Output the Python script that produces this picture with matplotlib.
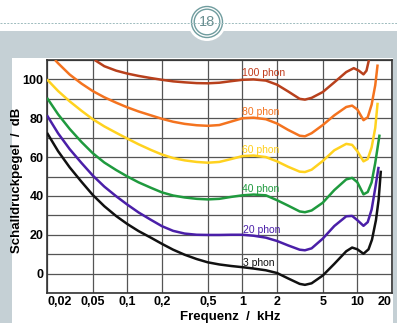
import numpy as np
import matplotlib
matplotlib.use("Agg")
from matplotlib import pyplot as plt
from matplotlib.patches import Rectangle, Circle

plt.rcParams['font.family'] = ['Liberation Sans', 'DejaVu Sans']

# values (frequency in kHz, level in dB)
f_3 = [0.02, 0.025, 0.0315, 0.04, 0.05, 0.063, 0.08, 0.1, 0.125, 0.16, 0.2, 0.25, 0.315, 0.4, 0.5,
       0.63, 0.8, 1.0, 1.25, 1.6, 2.0, 2.5, 3.15, 3.5, 4.0, 5.0, 6.3, 8.0, 9.0, 10.0, 11.3, 12.5,
       13.4, 14.5, 15.3, 16.0]
db_3 = [72.5, 63.0, 54.7, 47.2, 40.5, 34.7, 29.6, 25.5, 21.9, 18.5, 15.3, 12.3, 9.7, 7.5, 5.8,
        4.7, 3.9, 3.3, 2.6, 1.7, 0.3, -2.5, -5.3, -5.8, -5.0, -1.0, 5.0, 11.5, 13.4, 12.5, 10.2, 12.5,
        17.5, 27.5, 38.0, 53.0]

f_20 = [0.02, 0.025, 0.0315, 0.04, 0.05, 0.063, 0.08, 0.1, 0.125, 0.16, 0.2, 0.25, 0.315, 0.4, 0.5,
        0.63, 0.8, 1.0, 1.25, 1.6, 2.0, 2.5, 3.15, 3.5, 4.0, 5.0, 6.3, 8.0, 9.0, 10.0, 11.3, 12.3,
        13.3, 14.3, 15.3]
db_20 = [81.5, 72.2, 64.1, 56.9, 50.5, 44.8, 39.8, 35.5, 31.5, 27.7, 24.4, 22.0, 20.6, 20.0, 19.9,
         19.9, 20.0, 20.0, 19.5, 18.5, 16.8, 14.5, 12.3, 12.0, 13.0, 18.0, 24.5, 29.5, 29.7, 27.5, 24.6, 26.5,
         33.0, 44.0, 55.0]

f_40 = [0.02, 0.025, 0.0315, 0.04, 0.05, 0.063, 0.08, 0.1, 0.125, 0.16, 0.2, 0.25, 0.315, 0.4, 0.5,
        0.63, 0.8, 1.0, 1.25, 1.6, 2.0, 2.5, 3.15, 3.5, 4.0, 5.0, 6.3, 8.0, 9.0, 10.0, 11.3, 12.3,
        13.3, 14.3, 15.6]
db_40 = [90.5, 82.0, 74.5, 67.7, 62.0, 57.2, 53.3, 50.0, 47.0, 44.2, 41.8, 40.2, 39.2, 38.5, 38.2,
         38.5, 39.5, 40.3, 40.7, 40.3, 37.8, 35.0, 32.0, 31.6, 32.5, 36.5, 43.0, 48.5, 49.3, 47.0, 40.8, 42.0,
         47.0, 57.0, 71.6]

f_60 = [0.02, 0.025, 0.0315, 0.04, 0.05, 0.063, 0.08, 0.1, 0.125, 0.16, 0.2, 0.25, 0.315, 0.4, 0.5,
        0.63, 0.8, 1.0, 1.25, 1.6, 2.0, 2.5, 3.15, 3.5, 4.0, 5.0, 6.3, 8.0, 9.0, 10.0, 11.3, 12.3,
        13.3, 14.3, 15.0]
db_60 = [100.0, 94.0, 88.7, 83.8, 79.5, 75.8, 72.5, 69.5, 66.6, 63.7, 61.3, 59.5, 58.3, 57.5, 57.1,
         57.5, 59.0, 60.5, 60.8, 60.0, 57.8, 55.0, 52.5, 52.3, 53.5, 58.0, 63.5, 66.8, 66.3, 63.0, 57.8, 59.0,
         65.0, 75.0, 88.0]

f_80 = [0.0235, 0.025, 0.0315, 0.04, 0.05, 0.063, 0.08, 0.1, 0.125, 0.16, 0.2, 0.25, 0.315, 0.4, 0.5,
        0.63, 0.8, 1.0, 1.25, 1.6, 2.0, 2.5, 3.15, 3.5, 4.0, 5.0, 6.3, 8.0, 9.0, 10.0, 11.3, 12.3,
        13.3, 14.3, 15.0]
db_80 = [110.0, 108.3, 102.5, 97.8, 94.0, 90.8, 88.0, 85.6, 83.5, 81.5, 79.7, 78.2, 77.1, 76.4, 76.1,
         76.5, 78.3, 80.0, 80.3, 79.5, 77.3, 74.0, 71.0, 70.7, 72.3, 76.5, 81.5, 85.8, 86.5, 84.5, 79.0, 80.5,
         87.0, 97.0, 107.7]

f_100 = [0.052, 0.063, 0.08, 0.1, 0.125, 0.16, 0.2, 0.25, 0.315, 0.4, 0.5, 0.63, 0.8, 1.0, 1.25,
         1.6, 2.0, 2.5, 3.15, 3.5, 4.0, 5.0, 6.3, 8.0, 9.3, 10.3, 11.3, 12.0, 12.6]
db_100 = [110.0, 106.8, 104.5, 103.0, 101.8, 100.7, 99.8, 99.0, 98.5, 98.1, 98.0, 98.3, 99.1, 99.8, 100.0,
          99.4, 97.3, 93.8, 90.0, 89.6, 90.5, 93.5, 98.5, 103.8, 105.8, 104.5, 102.6, 104.5, 110.0]

curve_names = ["3 phon", "20 phon", "40 phon", "60 phon", "80 phon", "100 phon"]
curve_colors = ["#111111", "#4a1fa8", "#1f9a3e", "#ffd21f", "#f4731f", "#b8401c"]
label_colors = ["#111111", "#4a1fa8", "#1f9a3e", "#ffcf1a", "#f4731f", "#c03a1a"]
label_f = [1.02, 1.02, 1.0, 1.0, 1.0, 1.0]
label_db = [5.2, 22.7, 43.7, 63.9, 83.4, 103.1]

x_ticks = [0.02, 0.05, 0.1, 0.2, 0.5, 1, 2, 5, 10, 20]
x_ticklabels = ["0,02", "0,05", "0,1", "0,2", "0,5", "1", "2", "5", "10", "20"]
y_ticks = [0, 20, 40, 60, 80, 100]

curves = [(f_3, db_3), (f_20, db_20), (f_40, db_40), (f_60, db_60), (f_80, db_80), (f_100, db_100)]

W, H = 397, 323
fig = plt.figure(figsize=(W / 100, H / 100), dpi=100)
fig.patch.set_facecolor("#c5d0d5")

# page decoration in pixel coordinates
bg = fig.add_axes([0, 0, 1, 1])
bg.set_xlim(0, W)
bg.set_ylim(H, 0)
bg.axis("off")
bg.add_patch(Rectangle((0, 0), W, 31, color="white", lw=0))
bg.plot([0, W], [22.5, 22.5], color="#9dbbbd", lw=0.7, ls=(0, (2, 1.5)))
bg.add_patch(Circle((207, 22), 19, color="white", lw=0))
bg.add_patch(Circle((207, 22), 15.5, fill=False, ec="#6f9c9e", lw=1.0))
bg.add_patch(Circle((207, 22), 12.8, fill=False, ec="#6f9c9e", lw=1.0))
bg.text(207, 22.5, "18", ha="center", va="center", fontsize=10.5, color="#6a8f91")
bg.add_patch(Rectangle((12, 58), 381, H - 58, color="white", lw=0))

ax = fig.add_axes([47 / W, 30 / H, 345 / W, 233 / H])
ax.set_facecolor("white")
for (f, db), c in zip(curves, curve_colors):
    ax.plot(f, db, color=c, lw=1.8, solid_capstyle="butt", solid_joinstyle="round", zorder=3)
for name, c, lf, ldb in zip(curve_names, label_colors, label_f, label_db):
    ax.text(lf, ldb, name, color=c, fontsize=7.5, ha="left", va="center", zorder=4)

ax.set_xscale("log")
ax.set_xlim(0.02, 20)
ax.set_ylim(-10, 110)
ax.set_xticks(x_ticks)
ax.set_xticklabels(x_ticklabels)
ax.xaxis.set_minor_locator(plt.NullLocator())
ax.set_yticks(y_ticks)
ax.set_yticks(np.arange(-10, 111, 10), minor=True)
ax.grid(True, which="major", color="#555555", lw=0.9)
ax.grid(True, which="minor", axis="y", color="#555555", lw=0.9)
ax.set_axisbelow(True)
ax.tick_params(axis="both", which="both", length=0, labelsize=9, pad=2.5)
for lab in ax.get_xticklabels() + ax.get_yticklabels():
    lab.set_fontweight("bold")
ax.get_xticklabels()[-1].set_ha("right")
ax.get_xticklabels()[0].set_ha("left")
for sp in ax.spines.values():
    sp.set_color("#333333")
    sp.set_linewidth(1.2)

fig.text(230 / W, 1 - 317 / H, "Frequenz  /  kHz", ha="center", va="center",
         fontsize=9.5, fontweight="bold")
fig.text(17.5 / W, 1 - 180 / H, "Schalldruckpegel  /  dB", ha="center", va="center",
         rotation=90, fontsize=9.5, fontweight="bold")

fig.savefig("out.png", dpi=100, facecolor=fig.get_facecolor())
